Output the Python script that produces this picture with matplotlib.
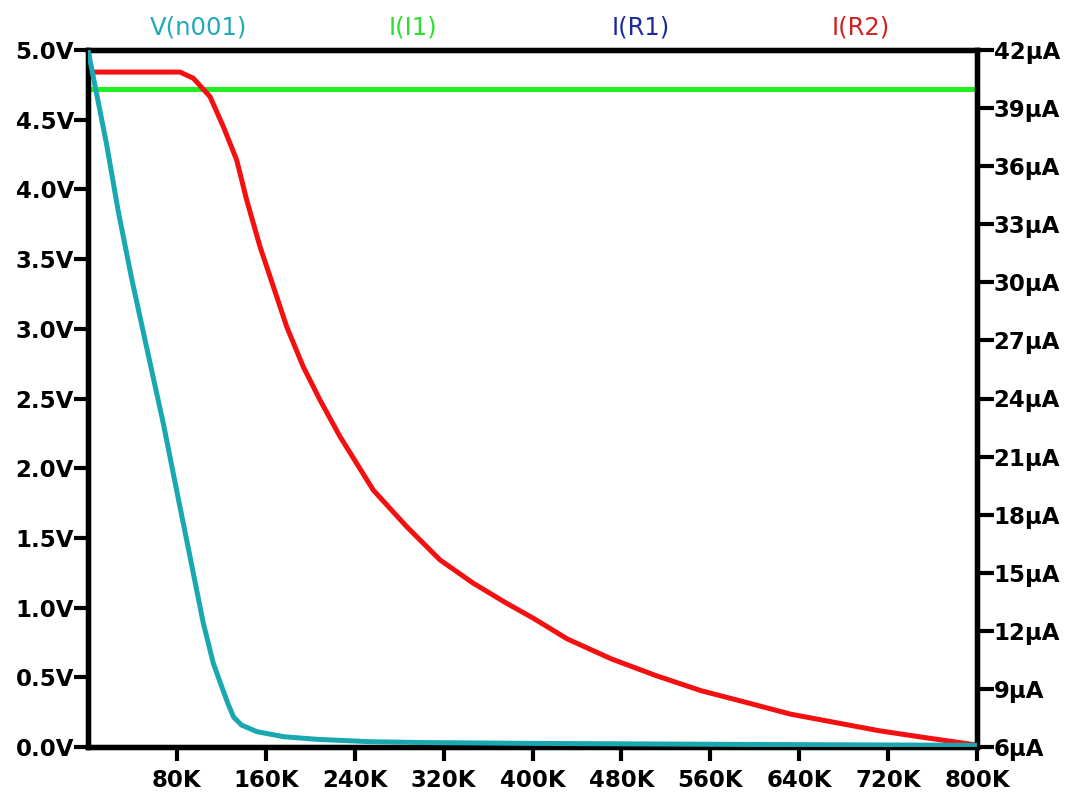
import matplotlib
matplotlib.use("Agg")
import matplotlib.pyplot as plt

# ---- data ----
r_v = [0, 16.8, 27.3, 39.3, 51.3, 67.8, 79.8, 91.8, 103.8, 112.8, 120, 126, 131, 138,
       152, 176, 206, 254, 300, 400, 500, 600, 700, 800]
v_n001 = [5.0, 4.32, 3.84, 3.36, 2.92, 2.32, 1.84, 1.365, 0.887, 0.60, 0.44, 0.31, 0.215, 0.158,
          0.11, 0.074, 0.055, 0.038, 0.032, 0.026, 0.022, 0.018, 0.015, 0.012]

r_i = [0, 82.8, 94.8, 109.8, 121.8, 133.8, 142.8, 154.8, 166.8, 178.8, 193.7, 208.8, 226.8,
       256.7, 286.8, 316.8, 346.7, 376.8, 400.8, 431, 471, 511, 551.6, 591.8, 632, 672, 712,
       752.6, 800]
i_r2 = [40.86, 40.86, 40.54, 39.59, 38.04, 36.32, 34.25, 31.84, 29.78, 27.71, 25.64, 23.92, 22.03,
        19.27, 17.38, 15.66, 14.46, 13.42, 12.65, 11.59, 10.55, 9.69, 8.91, 8.31, 7.70, 7.27, 6.84,
        6.49, 6.1]

r_i1 = [0, 800]
i_i1 = [40.0, 40.0]

v_ticks = [0.0, 0.5, 1.0, 1.5, 2.0, 2.5, 3.0, 3.5, 4.0, 4.5, 5.0]
i_ticks = [6, 9, 12, 15, 18, 21, 24, 27, 30, 33, 36, 39, 42]
x_ticks = [80, 160, 240, 320, 400, 480, 560, 640, 720, 800]

trace_names = ["V(n001)", "I(I1)", "I(R1)", "I(R2)"]

# ---- styling ----
C_CYAN = "#19A8B0"
C_GREEN = "#22EE22"
C_RED = "#F41010"
LBL_COLORS = ["#1FAAB8", "#2BE02B", "#1A2A9A", "#D02020"]
LBL_X = [198, 413, 641, 861]

W, H = 1072, 798
fig = plt.figure(figsize=(W / 100, H / 100), dpi=100)
fig.patch.set_facecolor("white")
ax = fig.add_axes([88 / W, 1 - 747 / H, (977 - 88) / W, (747 - 50) / H])
ax2 = ax.twinx()

ax2.plot(r_i1, i_i1, color=C_GREEN, lw=3.6, solid_capstyle="butt", zorder=2)
ax2.plot(r_i, i_r2, color=C_RED, lw=3.6, solid_capstyle="butt", zorder=3)
ax.plot(r_v, v_n001, color=C_CYAN, lw=3.6, solid_capstyle="butt", zorder=4)

ax.set_zorder(ax2.get_zorder() + 1)
ax.patch.set_visible(False)

ax.set_xlim(0, 800)
ax.set_ylim(0, 5.0)
ax2.set_ylim(6, 42)

ax.set_xticks(x_ticks)
ax.set_xticklabels([f"{t}K" for t in x_ticks])
ax.set_yticks(v_ticks)
ax.set_yticklabels([f"{t:.1f}V" for t in v_ticks])
ax2.set_yticks(i_ticks)
ax2.set_yticklabels([f"{t}µA" for t in i_ticks])

for a in (ax, ax2):
    for sp in a.spines.values():
        sp.set_linewidth(3.8)
        sp.set_color("black")
    for lab in a.get_xticklabels() + a.get_yticklabels():
        lab.set_fontfamily("DejaVu Sans")
        lab.set_fontweight("bold")
        lab.set_fontsize(16.5)

ax.tick_params(axis="y", direction="out", length=10, width=3, pad=0, colors="black")
ax.tick_params(axis="x", direction="out", length=10, width=3, pad=6, colors="black")
ax2.tick_params(axis="y", direction="out", length=12, width=3, pad=0, colors="black")

for name, col, xp in zip(trace_names, LBL_COLORS, LBL_X):
    fig.text(xp / W, 1 - 28 / H, name, color=col, fontsize=17.5, family="DejaVu Sans",
             ha="center", va="center")

fig.savefig("out.png", dpi=100, facecolor="white")
